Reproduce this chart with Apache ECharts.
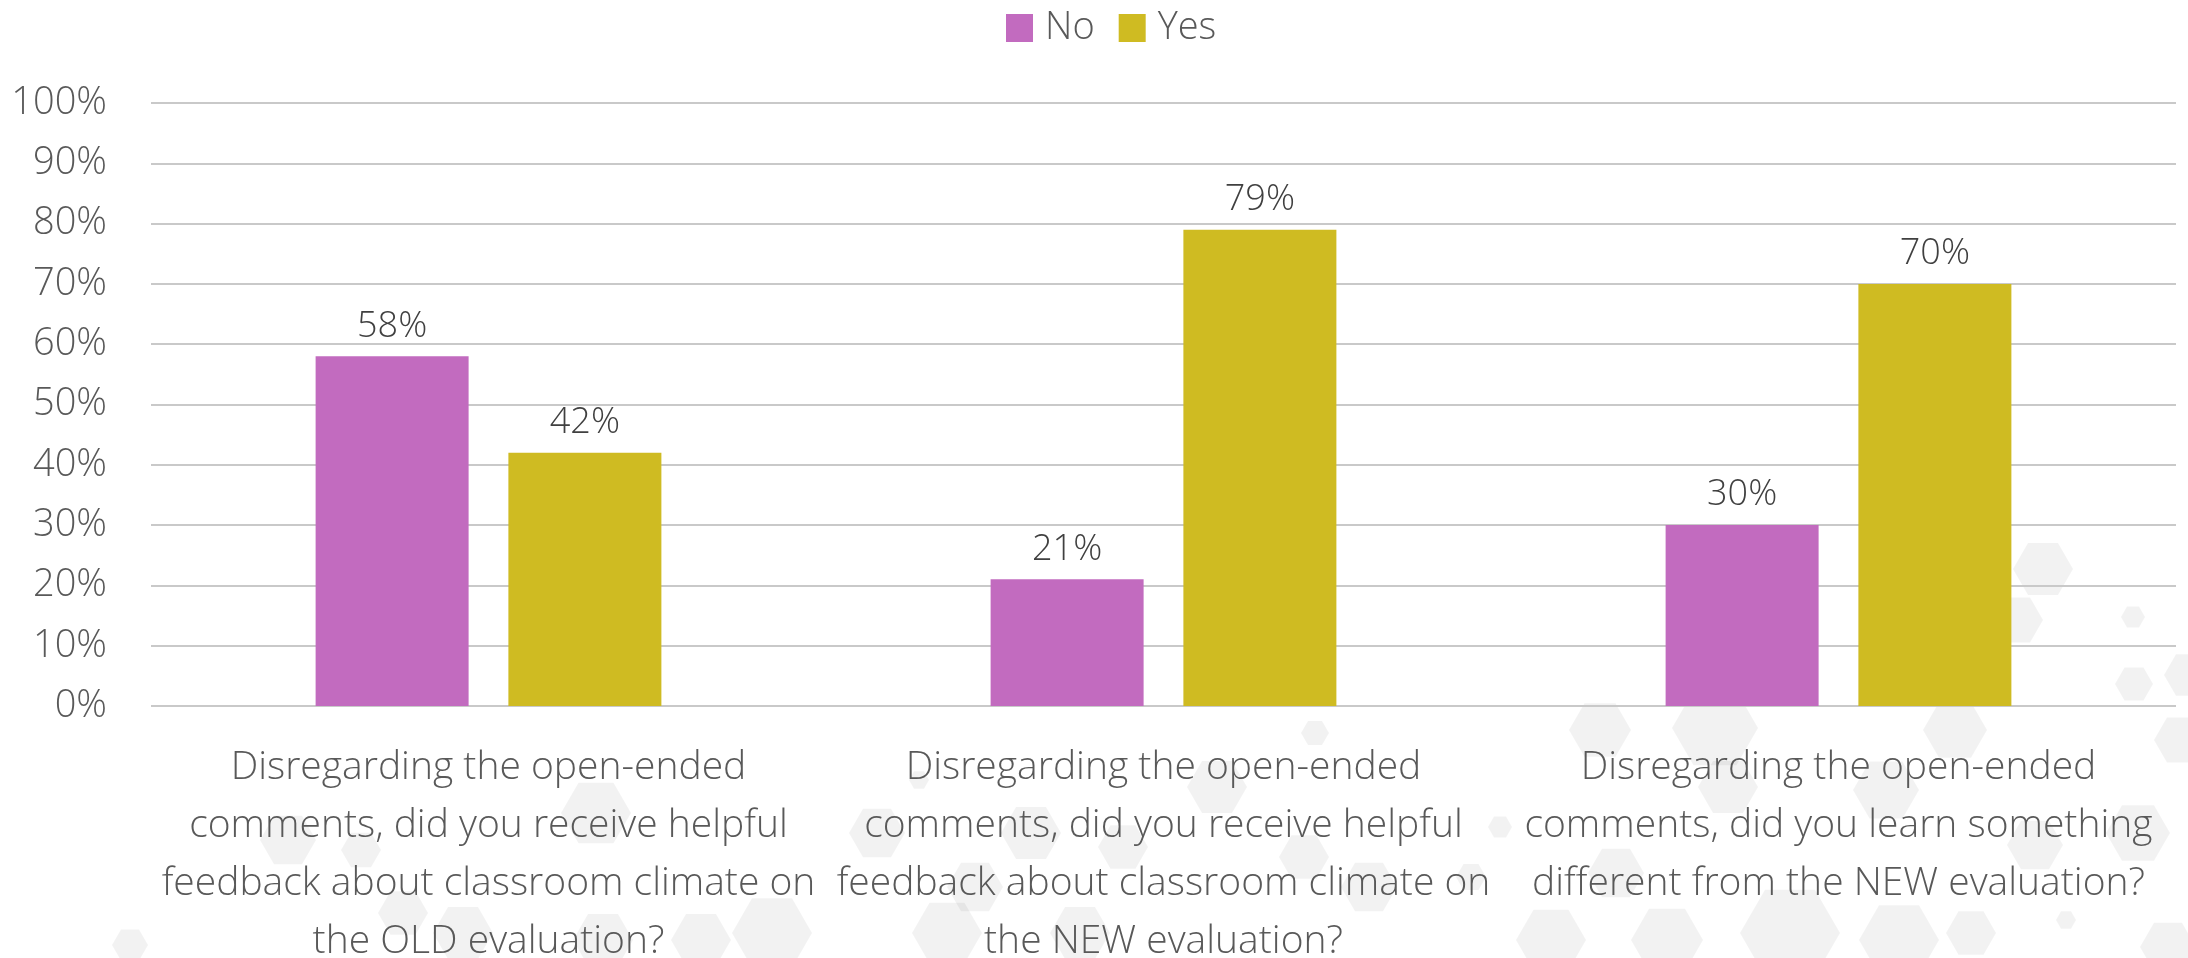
<!DOCTYPE html>
<html>
<head>
<meta charset="utf-8">
<title>Helpful feedback on the OLD and NEW evaluations</title>
<script src="https://cdn.jsdelivr.net/npm/echarts@6/dist/echarts.min.js"></script>
<style>
  html, body { margin: 0; padding: 0; background: #ffffff; }
  #chart { width: 2188px; height: 958px; }
</style>
</head>
<body>
<div id="chart"></div>
<script>
// Survey questions (x-axis categories)
const questions = [
  'Disregarding the open-ended\ncomments, did you receive helpful\nfeedback about classroom climate on\nthe OLD evaluation?',
  'Disregarding the open-ended\ncomments, did you receive helpful\nfeedback about classroom climate on\nthe NEW evaluation?',
  'Disregarding the open-ended\ncomments, did you learn something\ndifferent from the NEW evaluation?'
];
const seriesNames = ['No', 'Yes'];
// Share of respondents, in percent
const noValues = [58, 21, 30];
const yesValues = [42, 79, 70];

// Faint hexagon backdrop: [centerX, centerY, radius] in pixels
const hexBackdrop = [
  [2043, 569, 30], [2133, 617, 12], [2134, 684, 19], [2188, 675, 24], [2017, 620, 26],
  [1955, 730, 32], [2180, 740, 26], [1600, 730, 31], [1715, 728, 43], [1886, 790, 33],
  [1315, 733, 14], [1217, 787, 30], [1304, 857, 25], [1500, 827, 12], [1123, 847, 25],
  [1369, 887, 28], [1471, 877, 15], [1616, 873, 28], [1728, 787, 30], [2035, 845, 28],
  [2138, 833, 32], [1551, 940, 35], [1667, 940, 36], [1790, 933, 50], [1899, 940, 40],
  [1971, 933, 25], [2066, 920, 10], [2168, 947, 28],
  [596, 813, 35], [288, 840, 28], [361, 850, 20], [130, 945, 18], [403, 913, 25],
  [463, 933, 30], [603, 940, 30], [701, 940, 30], [772, 933, 40], [919, 780, 10],
  [877, 833, 28], [1031, 833, 30], [975, 887, 28], [947, 933, 35], [1080, 933, 30]
];

function hexPoints(cx, cy, r) {
  const pts = [];
  for (let i = 0; i < 6; i++) {
    const a = Math.PI / 3 * i;
    pts.push([cx + r * Math.cos(a), cy + r * Math.sin(a)]);
  }
  return pts;
}

const FONT = '"Open Sans", "Noto Sans", sans-serif';
const chart = echarts.init(document.getElementById('chart'), null, { renderer: 'canvas' });

chart.setOption({
  backgroundColor: '#ffffff',
  animation: false,
  textStyle: { fontFamily: FONT, fontWeight: 300 },
  color: ['#C26BBF', '#CFBB22'],
  graphic: hexBackdrop.map(h => ({
    type: 'polygon',
    silent: true,
    z: -10,
    shape: { points: hexPoints(h[0], h[1], h[2]) },
    style: { fill: 'rgba(0,0,0,0.05)' }
  })),
  legend: {
    data: seriesNames,
    left: 1001,
    top: 4,
    itemWidth: 27,
    itemHeight: 28,
    itemGap: 24,
    icon: 'rect',
    textStyle: { fontFamily: FONT, fontWeight: 300, fontSize: 38, color: '#595959', padding: [0, 0, 0, 7] }
  },
  grid: { left: 151, right: 12, top: 103, bottom: 252, containLabel: false, outerBoundsMode: 'none' },
  xAxis: {
    type: 'category',
    data: questions,
    axisLine: { show: false },
    axisTick: { show: false },
    axisLabel: {
      interval: 0,
      margin: 33,
      fontFamily: FONT,
      fontWeight: 300,
      fontSize: 39,
      lineHeight: 58,
      color: '#595959',
      align: 'center'
    }
  },
  yAxis: {
    type: 'value',
    min: 0,
    max: 100,
    interval: 10,
    axisLine: { show: false },
    axisTick: { show: false },
    splitLine: { lineStyle: { color: '#C9C9C9', width: 2 } },
    axisLabel: {
      formatter: '{value}%',
      margin: 44,
      fontFamily: FONT,
      fontWeight: 300,
      fontSize: 38,
      color: '#595959'
    }
  },
  series: [
    {
      name: seriesNames[0],
      type: 'bar',
      data: noValues,
      barWidth: 153,
      barGap: '26%',
      label: {
        show: true,
        position: 'top',
        distance: 12,
        formatter: '{c}%',
        fontFamily: FONT,
        fontWeight: 300,
        fontSize: 36,
        color: '#404040'
      }
    },
    {
      name: seriesNames[1],
      type: 'bar',
      data: yesValues,
      barWidth: 153,
      barGap: '26%',
      label: {
        show: true,
        position: 'top',
        distance: 12,
        formatter: '{c}%',
        fontFamily: FONT,
        fontWeight: 300,
        fontSize: 36,
        color: '#404040'
      }
    }
  ]
});
</script>
</body>
</html>
